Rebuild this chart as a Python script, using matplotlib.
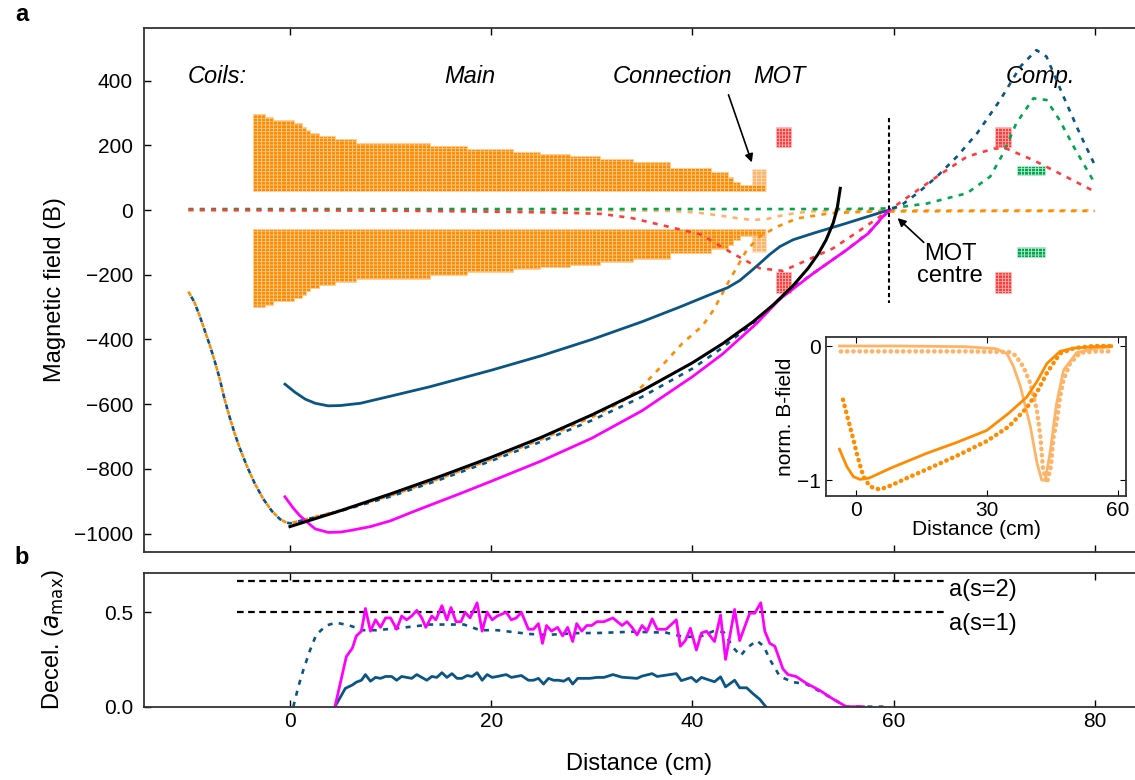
import numpy as np
import matplotlib.pyplot as plt

plt.rcParams['font.family'] = ['Liberation Sans', 'DejaVu Sans']
plt.rcParams['hatch.linewidth'] = 0.5

# colores
azul = '#0b5584'
naranja = '#ff8c00'
naranja_claro = '#ffb366'
rojo = '#ff3b3b'
verde = '#00a651'
magenta = '#ff00ff'

# ---- bobinas (tramos: inicio, fin, altura) ----
main_start = [-3.7, -2.5, -1.7, 0.4, 1.2, 1.6, 2.0, 2.9, 4.5, 6.6, 13.9, 17.6, 22.2, 24.9, 27.8,
              30.8, 34.1, 37.8, 41.9, 43.5, 44.0, 44.7]
main_end = [-2.5, -1.7, 0.4, 1.2, 1.6, 2.0, 2.9, 4.5, 6.6, 13.9, 17.6, 22.2, 24.9, 27.8, 30.8,
            34.1, 37.8, 41.9, 43.5, 44.0, 44.7, 47.2]
main_top = [297, 288, 278, 268, 257, 247, 238, 229, 218, 208, 198, 187, 178, 172, 166,
            158, 147, 129, 117, 103, 88, 77]
conn_coil = (45.9, 47.3, 127)
mot_coils = [(48.3, 49.8), (70.1, 71.7)]
mot_y = (196, 257)
comp_coil = (72.3, 75.1, 108, 137)

# ---- campo total y por bobinas ----
left_x = [-10.1, -9.5, -9.0, -8.5, -8.0, -7.5, -7.0, -6.5, -6.0, -5.5, -5.0, -4.3, -3.5, -2.65,
          -1.8, -1.0, -0.4, 0.0]
left_y = [-252, -285, -325, -370, -415, -465, -520, -585, -640, -690, -735, -790, -845, -893,
          -930, -955, -965, -968]

orange_x = left_x + [5, 10, 15, 20, 25, 30, 33, 35, 37, 39, 41, 42.1, 43.7, 45.4, 46.7, 48.4,
                     50.4, 53.7, 57.3, 62, 70, 80]
orange_y = left_y + [-928, -882, -828, -770, -708, -640, -592, -545, -480, -412, -358, -309,
                     -216, -124, -82, -52, -26, -10, -5, -4, -3, -3]

total_x = left_x + [5, 10, 15, 20, 25, 30, 35, 40, 43, 46, 48, 50, 52, 55.3, 57.5, 59.6, 61,
                    62.5, 64.3, 66.3, 68.3, 70.6, 72.6, 74.2, 75.2, 76.9, 78.5, 80]
total_y = left_y + [-930, -885, -832, -775, -715, -650, -577, -490, -425, -350, -295, -240,
                    -196, -124, -70, 0, 20, 55, 103, 165, 237, 340, 443, 494, 474, 350, 237, 139]

mot_x = [-10.1, 0, 10, 20, 27, 31, 34, 37.4, 40.8, 44, 46.7, 49, 51.4, 54, 56.7, 59.6, 61,
         64.3, 67.3, 70, 71.2, 73.9, 76.5, 80]
mot_field = [0, -1, -2, -5, -8, -12, -25, -50, -75, -134, -180, -188, -155, -118, -62, 0, 31,
             103, 165, 190, 190, 154, 113, 57]

comp_x = [-10.1, 40, 55, 59.6, 63.3, 67.3, 69.6, 70.9, 72.2, 73.9, 75.2, 76.5, 77.9, 79.9]
comp_field = [3, 3, 3, 5, 20, 52, 103, 175, 268, 345, 340, 278, 196, 88]

conn_x = [-10.1, 30, 38, 40.5, 42.5, 44.4, 46, 47.5, 48.7, 50.3, 52, 56, 80]
conn_field = [0, 0, -3, -8, -16, -25, -31, -27, -18, -9, -4, -1, -1]

ideal_x = [0, 5, 10, 15, 20, 25, 30, 35, 40, 43, 46, 48, 50, 51.5, 52.5, 53.3, 54, 54.4, 54.7]
ideal_y = [-978, -929, -877, -822, -764, -702, -633, -558, -472, -413, -346, -294, -234, -180,
           -136, -92, -40, 6, 67]

mag_x = [-0.5, 0.3, 1, 2, 2.5, 3.8, 5, 6, 8, 10, 12, 13.9, 17, 20, 25, 30, 35, 40, 43, 46.4,
         48.7, 52, 55.3, 57.5, 59, 59.6]
mag_y = [-886, -920, -945, -972, -985, -996, -995, -990, -978, -960, -935, -912, -875, -838,
         -775, -705, -620, -515, -445, -350, -275, -196, -124, -72, -18, 0]

blue_x = [-0.5, 0.5, 1.5, 2.5, 3.8, 5, 7, 10, 13.9, 20, 25, 30, 35, 38.8, 42.1, 43.5, 44.7,
          45.7, 46.7, 47.7, 48.7, 50, 52, 55.3, 59, 59.6]
blue_y = [-538, -563, -584, -597, -605, -604, -597, -575, -546, -495, -450, -400, -345, -299,
          -257, -240, -218, -192, -165, -137, -113, -92, -72, -41, -5, 0]

# ---- deceleración ----
dec_mag_x = [4.47, 5.6, 6.2, 6.6, 7.1, 7.5, 8.0, 8.5, 9.0, 9.5, 10.0, 10.6, 11.1, 11.6, 12.1,
             12.6, 13.1, 13.5, 14.1, 14.5, 15.1, 15.6, 16.0, 16.5, 17.0, 17.4, 17.9, 18.6,
             19.1, 19.6, 20.1, 20.6, 21.5, 22.0, 22.5, 23.0, 23.7, 24.2, 24.7, 25.1, 25.5,
             26.0, 26.6, 27.1, 27.6, 28.1, 28.5, 29.0, 29.5, 30.0, 30.5, 31.2, 32.1, 33.0,
             33.5, 34.0, 34.5, 35.0, 35.5, 36.0, 36.5, 37.4, 38.4, 38.8, 39.3, 39.8, 40.4,
             40.9, 41.4, 42.2, 42.8, 43.3, 44.2, 44.7, 45.7, 46.2, 46.8, 47.2, 47.7, 48.2,
             49.0, 49.5, 50.3, 51.3, 52.7, 54.0, 55.3, 57.0]
dec_mag_y = [0, 0.265, 0.31, 0.375, 0.40, 0.52, 0.40, 0.46, 0.42, 0.47, 0.47, 0.41, 0.48, 0.46,
             0.48, 0.51, 0.47, 0.42, 0.48, 0.46, 0.535, 0.46, 0.525, 0.45, 0.45, 0.50, 0.47,
             0.55, 0.40, 0.50, 0.46, 0.48, 0.50, 0.46, 0.47, 0.50, 0.41, 0.41, 0.44, 0.335,
             0.43, 0.40, 0.42, 0.375, 0.42, 0.345, 0.44, 0.40, 0.43, 0.43, 0.45, 0.45, 0.47,
             0.43, 0.45, 0.42, 0.38, 0.43, 0.40, 0.465, 0.41, 0.41, 0.46, 0.32, 0.35, 0.415,
             0.30, 0.39, 0.40, 0.345, 0.485, 0.25, 0.515, 0.35, 0.495, 0.495, 0.55, 0.40,
             0.335, 0.32, 0.20, 0.17, 0.16, 0.125, 0.085, 0.04, 0.0, 0.0]

dec_blue_x = [4.47, 5.5, 6.2, 6.6, 7.1, 7.5, 8.0, 8.5, 9.0, 9.5, 10.1, 10.6, 11.1, 12.1, 12.6,
              13.1, 13.6, 14.1, 14.6, 15.1, 15.6, 16.1, 16.6, 17.1, 17.6, 18.1, 18.6, 19.1,
              19.6, 20.1, 20.6, 21.5, 22.0, 22.5, 23.0, 23.7, 24.2, 24.7, 25.2, 25.7, 26.2,
              26.7, 27.2, 27.7, 28.1, 28.6, 29.2, 29.8, 30.5, 31.2, 32.1, 33.0, 34.5, 35.0,
              36.0, 36.5, 38.4, 38.9, 39.9, 40.4, 40.9, 42.2, 42.8, 43.3, 44.2, 44.7, 45.4,
              46.0, 46.7, 47.3]
dec_blue_y = [0, 0.097, 0.115, 0.13, 0.14, 0.17, 0.135, 0.155, 0.15, 0.16, 0.16, 0.14, 0.16,
              0.15, 0.17, 0.155, 0.14, 0.16, 0.155, 0.18, 0.155, 0.175, 0.15, 0.15, 0.165,
              0.16, 0.18, 0.14, 0.17, 0.155, 0.16, 0.17, 0.155, 0.16, 0.165, 0.14, 0.14, 0.15,
              0.12, 0.15, 0.14, 0.14, 0.135, 0.15, 0.12, 0.15, 0.15, 0.15, 0.155, 0.155, 0.17,
              0.156, 0.15, 0.162, 0.175, 0.16, 0.175, 0.138, 0.155, 0.132, 0.155, 0.132, 0.158,
              0.105, 0.14, 0.10, 0.10, 0.07, 0.039, 0.0]

dec_dash_x = [0.33, 0.83, 1.3, 2.0, 2.6, 3.6, 4.6, 5.9, 7.3, 8.6, 10.6, 12.3, 13.9, 15.6, 17.3,
              18.9, 20.6, 22.2, 23.8, 25.5, 27.1, 28.8, 30.5, 34.1, 37.4, 39.1, 40.7, 42.1,
              43.1, 44.1, 44.8, 45.4, 46.4, 47.1, 47.7, 48.7, 50.0, 51.3, 52.7, 54.0, 55.3, 59.0]
dec_dash_y = [0, 0.106, 0.19, 0.30, 0.38, 0.43, 0.445, 0.43, 0.405, 0.405, 0.415, 0.425, 0.435,
              0.435, 0.435, 0.405, 0.405, 0.395, 0.385, 0.38, 0.385, 0.39, 0.39, 0.397, 0.392,
              0.37, 0.37, 0.40, 0.395, 0.31, 0.27, 0.31, 0.35, 0.32, 0.25, 0.16, 0.13, 0.12,
              0.08, 0.04, 0.0, 0.0]

a_s1 = 0.5
a_s2 = 0.667

# ---- recuadro (campo normalizado) ----
ins_dark_x = [-3.8, -2.1, -0.6, 0.9, 3, 8, 16.2, 23, 29.9, 35, 39.1, 41.5, 43.7, 46.7, 50, 54.4, 58.5]
ins_dark_y = [-0.77, -0.90, -0.975, -0.995, -0.985, -0.91, -0.80, -0.72, -0.63, -0.50, -0.38,
              -0.26, -0.13, -0.04, -0.015, -0.005, 0.0]
ins_dark_dot_x = [-3.0, -2.2, -1.4, -0.6, 0.15, 1.0, 1.7, 3, 4, 5.5, 8, 12, 16.2, 23, 29.9, 35,
                  39.1, 41.5, 43.7, 46.7, 50, 54.4, 58.5]
ins_dark_dot_y = [-0.40, -0.50, -0.60, -0.70, -0.80, -0.90, -0.975, -1.04, -1.06, -1.07, -1.04,
                  -0.98, -0.92, -0.82, -0.71, -0.60, -0.46, -0.34, -0.20, -0.055, -0.015, 0, 0]
ins_light_x = [-3.8, 10, 25, 32, 34.5, 36, 37.6, 39.9, 41.4, 42.5, 43.3, 44.4, 45.9, 47.5, 50.5,
               54.4, 58.5]
ins_light_y = [0, 0, -0.005, -0.02, -0.055, -0.15, -0.30, -0.60, -0.87, -1.0, -1.0, -0.80, -0.43,
               -0.18, -0.05, -0.02, -0.005]
ins_light_dot_x = [-3.5, 10, 25, 35, 36.5, 38.3, 39.9, 41.4, 42.2, 42.8, 43.7, 44.6, 45.2, 46,
                   46.7, 47.5, 49, 51.3, 55, 58.5]
ins_light_dot_y = [-0.04, -0.04, -0.04, -0.045, -0.07, -0.155, -0.28, -0.48, -0.68, -0.92, -1.02,
                   -0.90, -0.68, -0.55, -0.38, -0.25, -0.13, -0.05, -0.04, -0.04]

fig = plt.figure(figsize=(11.35, 7.8), dpi=100)
ax = fig.add_axes([0.1269, 0.2923, 0.8731, 0.6718])
axb = fig.add_axes([0.1269, 0.0940, 0.8731, 0.1714])
axi = fig.add_axes([0.7278, 0.3641, 0.2643, 0.2038])


def columnas(a, x0, x1, y0, y1, color, borde, paso=0.4, z=1):
    n = max(1, int(round((x1 - x0) / paso)))
    xs = np.linspace(x0, x1, n + 1)
    for i in range(n):
        a.bar(xs[i], y1 - y0, bottom=y0, width=xs[i + 1] - xs[i], align='edge',
              color=color, edgecolor=borde, linewidth=0.5, hatch='-----', zorder=z)


# bobinas principales
for s, e, t in zip(main_start, main_end, main_top):
    columnas(ax, s, e, 60, t, naranja, '#ffd2a0', z=2)
    columnas(ax, s, e, -60, -t - 4, naranja, '#ffd2a0', z=2)
# bobina de conexión
columnas(ax, conn_coil[0], conn_coil[1], 60, conn_coil[2], naranja_claro, '#ffe6cc', z=1)
columnas(ax, conn_coil[0], conn_coil[1], -60, -conn_coil[2] - 4, naranja_claro, '#ffe6cc', z=1)
# bobinas MOT
for s, e in mot_coils:
    columnas(ax, s, e, mot_y[0], mot_y[1], rojo, '#ffc0c0', paso=0.3, z=2)
    columnas(ax, s, e, -mot_y[0] + 4, -mot_y[1], rojo, '#ffc0c0', paso=0.3, z=2)
# bobinas de compensación
columnas(ax, comp_coil[0], comp_coil[1], comp_coil[2], comp_coil[3], verde, '#c8f0d8', paso=0.35, z=2)
columnas(ax, comp_coil[0], comp_coil[1], -comp_coil[2] - 5, -comp_coil[3] - 7, verde, '#c8f0d8',
         paso=0.35, z=2)

guion = (0, (1.9, 2.4))
ax.plot(conn_x, conn_field, color=naranja_claro, lw=1.9, ls=guion, zorder=3)
ax.plot(comp_x, comp_field, color=verde, lw=1.9, ls=guion, zorder=3)
ax.plot(mot_x, mot_field, color=rojo, lw=1.9, ls=guion, zorder=3)
ax.plot(orange_x, orange_y, color=naranja, lw=1.9, ls=guion, zorder=4)
ax.plot(total_x, total_y, color=azul, lw=1.9, ls=(2.1, (1.9, 2.4)), zorder=4)
ax.plot(blue_x, blue_y, color=azul, lw=2.0, zorder=5)
ax.plot(mag_x, mag_y, color=magenta, lw=2.0, zorder=5)
ax.plot(ideal_x, ideal_y, color='black', lw=2.2, zorder=6)
ax.plot([59.5, 59.5], [283, -286], color='black', lw=1.5, ls=(0, (2, 1.5)), zorder=6)

it = dict(fontsize=17, style='italic', ha='center', va='center')
ax.text(-7.2, 411, 'Coils:', **it)
ax.text(17.9, 411, 'Main', **it)
ax.text(38.0, 411, 'Connection', **it)
ax.text(48.7, 411, 'MOT', **it)
ax.text(74.6, 411, 'Comp.', **it)
ax.annotate('', xy=(46.0, 139), xytext=(43.5, 364),
            arrowprops=dict(arrowstyle='-|>', color='black', lw=1.2, mutation_scale=12))
ax.text(65.6, -170, 'MOT\ncentre', fontsize=17, ha='center', va='center', linespacing=1.0)
ax.annotate('', xy=(60.4, -25), xytext=(63.0, -100),
            arrowprops=dict(arrowstyle='-|>', color='black', lw=1.2, mutation_scale=12,
                            shrinkA=0, shrinkB=0))

ax.set_xlim(-14.51, 84.0)
ax.set_ylim(-1056.5, 562.3)
ax.set_yticks(np.arange(-1000, 401, 200))
ax.set_xticks([0, 20, 40, 60, 80])
ax.tick_params(axis='x', labelbottom=False)
ax.set_ylabel('Magnetic field (B)', fontsize=17)

# panel b
axb.plot([-5.3, 65.2], [a_s2, a_s2], color='black', lw=1.6, ls=(0, (3, 2)))
axb.plot([-5.3, 65.2], [a_s1, a_s1], color='black', lw=1.6, ls=(0, (3, 2)))
axb.text(65.5, 0.618, 'a(s=2)', fontsize=17, va='center')
axb.text(65.5, 0.438, 'a(s=1)', fontsize=17, va='center')
axb.plot(dec_dash_x, dec_dash_y, color=azul, lw=1.9, ls=(0, (1.9, 2.4)))
axb.plot(dec_blue_x, dec_blue_y, color=azul, lw=2.0)
axb.plot(dec_mag_x, dec_mag_y, color=magenta, lw=2.0)
axb.set_xlim(-14.51, 84.0)
axb.set_ylim(0, 0.708)
axb.set_yticks([0.0, 0.5])
axb.set_yticklabels(['0.0', '0.5'])
axb.set_xticks([0, 20, 40, 60, 80])
axb.set_xlabel('Distance (cm)', fontsize=17, labelpad=16)
axb.set_ylabel(r'Decel. ($a_{\rm max}$)', fontsize=17)

for a in (ax, axb):
    a.spines['right'].set_visible(False)
    for sp in a.spines.values():
        sp.set_color('#333333')
        sp.set_linewidth(1.3)
    a.tick_params(direction='in', top=True, labelsize=15, length=5, width=1.0)
    a.tick_params(axis='y', pad=8)
    a.yaxis.set_label_coords(-0.079, 0.5)

# recuadro
axi.plot(ins_light_x, ins_light_y, color=naranja_claro, lw=2.0)
axi.plot(ins_light_dot_x, ins_light_dot_y, color=naranja_claro, lw=3.2, ls=(0, (0.1, 1.3)),
         dash_capstyle='round')
axi.plot(ins_dark_x, ins_dark_y, color=naranja, lw=2.0)
axi.plot(ins_dark_dot_x, ins_dark_dot_y, color=naranja, lw=3.2, ls=(0, (0.1, 1.3)),
         dash_capstyle='round')
axi.set_xlim(-6.87, 61.8)
axi.set_ylim(-1.119, 0.067)
axi.set_xticks([0, 30, 60])
axi.set_yticks([-1, 0])
axi.tick_params(direction='in', top=True, right=True, labelsize=15, length=4)
axi.set_xlabel('Distance (cm)', fontsize=15, labelpad=0)
axi.set_ylabel('norm. B-field', fontsize=15, labelpad=2)
for sp in axi.spines.values():
    sp.set_linewidth(1.3)
    sp.set_color('#333333')

fig.text(0.013, 0.981, 'a', fontsize=17, fontweight='bold', va='center')
fig.text(0.013, 0.285, 'b', fontsize=17, fontweight='bold', va='center')

fig.savefig('out.png', dpi=100)
